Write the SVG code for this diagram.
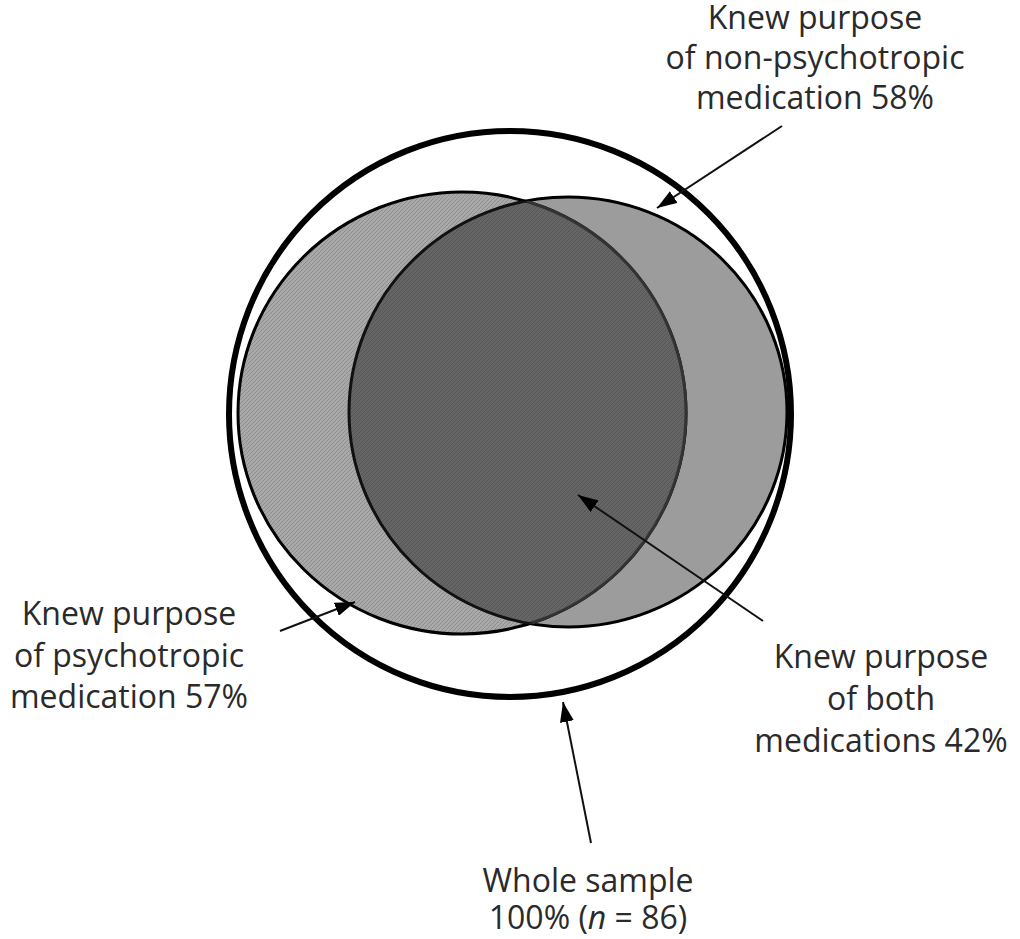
<svg xmlns="http://www.w3.org/2000/svg" width="1020" height="939" viewBox="0 0 1020 939">
<style>
.lbl{font-family:"Open Sans","DejaVu Sans",sans-serif;font-size:32px;fill:#2a2a2a;text-anchor:middle}
.con{stroke:#111;stroke-width:2;fill:none;marker-end:url(#ah)}
</style>
<defs>
<marker id="ah" viewBox="0 0 20 14" refX="20" refY="7" markerWidth="20" markerHeight="14" markerUnits="userSpaceOnUse" orient="auto">
<path d="M0,0 L20,7 L0,14 Z" fill="#000"/>
</marker>
<clipPath id="clipR"><ellipse cx="568" cy="412" rx="219" ry="215"/></clipPath>
<clipPath id="clipL"><ellipse cx="462" cy="413" rx="224" ry="221"/></clipPath>
<pattern id="hatchL" width="4" height="4" patternUnits="userSpaceOnUse">
<rect width="4" height="4" fill="#a9a9a9"/><path d="M0,4 L4,0" stroke="#8e8e8e" stroke-width="1"/>
</pattern>
<pattern id="hatchD" width="4" height="4" patternUnits="userSpaceOnUse">
<rect width="4" height="4" fill="#656565"/><path d="M0,4 L4,0" stroke="#575757" stroke-width="1"/>
</pattern>
</defs>
<g id="whole-sample">
<ellipse cx="510" cy="414" rx="281" ry="283" fill="none" stroke="#000" stroke-width="6"/>
</g>
<g id="non-psychotropic">
<ellipse cx="568" cy="412" rx="219" ry="215" fill="#9c9c9c" stroke="#000" stroke-width="3"/>
</g>
<g id="psychotropic">
<ellipse cx="462" cy="413" rx="224" ry="221" fill="url(#hatchL)" stroke="#000" stroke-width="3"/>
</g>
<g id="both">
<ellipse cx="462" cy="413" rx="224" ry="221" fill="url(#hatchD)" clip-path="url(#clipR)"/>
<ellipse cx="462" cy="413" rx="224" ry="221" fill="none" stroke="#333" stroke-width="3" clip-path="url(#clipR)"/>
<ellipse cx="568" cy="412" rx="219" ry="215" fill="none" stroke="#111" stroke-width="3" clip-path="url(#clipL)"/>
</g>
<g id="connectors">
<line class="con" x1="782" y1="126" x2="657" y2="208"/>
<line class="con" x1="280" y1="631" x2="355" y2="602"/>
<line class="con" x1="763" y1="621" x2="578" y2="495"/>
<line class="con" x1="591" y1="843" x2="563" y2="702"/>
</g>
<g id="label-non-psychotropic">
<text class="lbl" x="815" y="29">Knew purpose</text>
<text class="lbl" x="815" y="69">of non-psychotropic</text>
<text class="lbl" x="815" y="109">medication 58%</text>
</g>
<g id="label-psychotropic">
<text class="lbl" x="129" y="625">Knew purpose</text>
<text class="lbl" x="129" y="667">of psychotropic</text>
<text class="lbl" x="129" y="708">medication 57%</text>
</g>
<g id="label-both">
<text class="lbl" x="881" y="668">Knew purpose</text>
<text class="lbl" x="881" y="710">of both</text>
<text class="lbl" x="881" y="752">medications 42%</text>
</g>
<g id="label-whole">
<text class="lbl" x="588" y="892">Whole sample</text>
<text class="lbl" x="588" y="929">100% (<tspan font-style="italic">n</tspan> = 86)</text>
</g>
</svg>
